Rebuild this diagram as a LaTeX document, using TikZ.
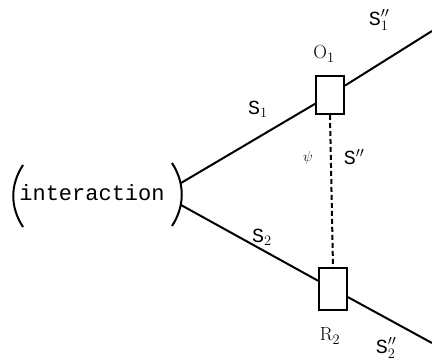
\documentclass[tikz,border=0pt]{standalone}
\usepackage{fontspec}
\setmonofont{Liberation Mono}
\usepackage{tikz}
\usetikzlibrary{positioning}
\tikzset{
  ln/.style={line width=2pt,black},
  bx/.style={draw,line width=2pt,fill=white,minimum width=28pt,minimum height=38pt,inner sep=0pt},
  lb/.style={font=\ttfamily\fontsize{20}{20}\selectfont,inner sep=0pt},
  rl/.style={font=\rmfamily\fontsize{19}{19}\selectfont,inner sep=0pt},
  dsh/.style={line width=2pt,dash pattern=on 5pt off 3pt}
}
\begin{document}
\begin{tikzpicture}[x=1pt,y=-1pt]
\useasboundingbox (0,0) rectangle (432,362);
% source
\node[font=\ttfamily\fontsize{22}{22}\selectfont,inner sep=0pt] (inter) at (92,193) {interaction};
\draw[ln] (23,165) .. controls (10,185) and (10,207) .. (23,227);
\draw[ln] (172,163) .. controls (185,183) and (185,206) .. (172,226);
\coordinate (up) at (181,183);
\coordinate (dn) at (181,205);
% detectors
\node[bx] (O1) at (330,95) {};
\node[bx,minimum height=42pt] (R2) at (333,289) {};
\coordinate (upend) at (432,31);
\coordinate (dnend) at (432,343);
\draw[ln] (up) -- (O1) -- (upend);
\draw[ln] (dn) -- (R2) -- (dnend);
\draw[dsh] (O1.south) -- (R2.north);
% labels
\node[lb] (s1) at (258,109) {S$_1$};
\node[lb] (s2) at (262,237) {S$_2$};
\node[lb] (s1pp) at (379,20) {S$''_1$};
\node[lb] (s2pp) at (386,348) {S$''_2$};
\node[lb] (spp) at (354,157) {S$''$};
\node[inner sep=0pt,font=\fontsize{15}{15}\selectfont] (psi) at (308,158) {$\psi$};
\node[rl] (o1) at (324,54) {O$_1$};
\node[rl] (r2) at (330,336) {R$_2$};
\end{tikzpicture}
\end{document}
